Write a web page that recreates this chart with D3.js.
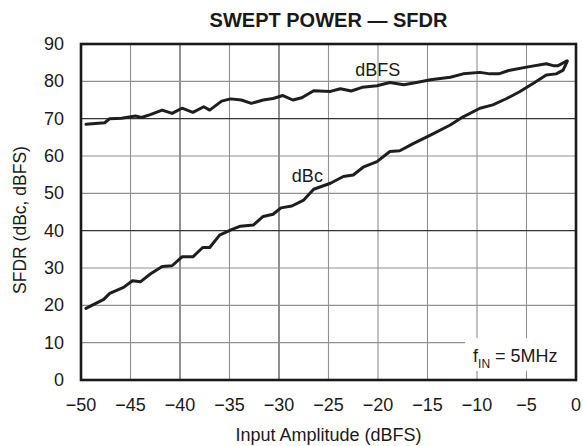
<!DOCTYPE html>
<html lang="en">
<head>
    <script src="https://d3js.org/d3.v7.min.js"></script>
    <style>
        body { margin: 0; background: white; }
        text { font-family: "Liberation Sans", Arial, sans-serif; fill: #1a1a1a; }
    </style>
</head>
<body>
    <svg id="chart" width="583" height="446"></svg>
    <script>
    // values
    const dbfsAmp = [-49.5, -47.6, -47.1, -45.9, -44.5, -43.9, -43.0, -41.8, -40.8, -39.8, -38.7, -37.6, -37.0, -35.8, -34.9, -33.8, -32.8, -31.6, -30.6, -29.6, -28.6, -27.7, -26.5, -24.8, -23.8, -22.7, -21.6, -20.1, -18.8, -17.4, -16.1, -14.7, -12.7, -11.4, -9.7, -8.7, -7.8, -6.8, -5.0, -3.0, -2.3, -1.8, -0.9];
    const dbfsSfdr = [68.5, 68.9, 70.0, 70.1, 70.7, 70.3, 71.1, 72.3, 71.4, 72.8, 71.7, 73.2, 72.3, 74.7, 75.3, 75.0, 74.1, 75.0, 75.4, 76.2, 75.0, 75.6, 77.5, 77.3, 78.0, 77.4, 78.4, 78.8, 79.7, 79.1, 79.7, 80.4, 81.1, 82.0, 82.4, 82.0, 82.0, 82.9, 83.8, 84.7, 84.2, 84.2, 85.5];

    const dbcAmp = [-49.5, -47.7, -47.1, -45.7, -44.8, -44.0, -43.0, -41.8, -40.8, -39.8, -38.7, -37.7, -37.0, -36.0, -34.8, -33.9, -32.6, -31.6, -30.6, -29.8, -28.7, -27.5, -26.5, -24.8, -23.5, -22.5, -21.5, -20.1, -18.8, -17.8, -16.4, -14.7, -12.7, -11.4, -9.7, -8.4, -7.0, -5.7, -4.3, -3.0, -2.0, -1.3, -0.9];
    const dbcSfdr = [19.2, 21.6, 23.2, 24.8, 26.6, 26.3, 28.4, 30.4, 30.6, 33.0, 33.0, 35.5, 35.5, 38.8, 40.3, 41.2, 41.5, 43.8, 44.4, 46.1, 46.6, 48.2, 51.1, 52.7, 54.5, 54.9, 57.0, 58.5, 61.2, 61.4, 63.4, 65.6, 68.3, 70.5, 72.8, 73.7, 75.4, 77.2, 79.5, 81.7, 82.0, 83.0, 85.3];

    const xTicks = [-50, -45, -40, -35, -30, -25, -20, -15, -10, -5, 0];
    const yTicks = [0, 10, 20, 30, 40, 50, 60, 70, 80, 90];
    const seriesNames = ["dBFS", "dBc"];
    const labelAmp = [-22.3, -28.7];
    const labelSfdr = [81.4, 53.0];

    const svg = d3.select("#chart");
    const margin = {top: 44, right: 7, bottom: 66, left: 81};
    const width = 583, height = 446;

    const x = d3.scaleLinear().domain([-50, 0]).range([margin.left, width - margin.right]);
    const y = d3.scaleLinear().domain([0, 90]).range([height - margin.bottom, margin.top]);

    // grid
    const darkX = [-40, -30], darkY = [40, 70];
    svg.append("g").selectAll("line").data(xTicks.slice(1, -1)).enter().append("line")
        .attr("x1", d => x(d)).attr("x2", d => x(d))
        .attr("y1", y(0)).attr("y2", y(90))
        .attr("stroke", d => darkX.includes(d) ? "#333" : "#909090")
        .attr("stroke-width", 1.1);
    svg.append("g").selectAll("line").data(yTicks.slice(1, -1)).enter().append("line")
        .attr("x1", x(-50)).attr("x2", x(0))
        .attr("y1", d => y(d)).attr("y2", d => y(d))
        .attr("stroke", d => darkY.includes(d) ? "#333" : "#909090")
        .attr("stroke-width", 1.1);

    // annotation box covers the grid
    svg.append("rect")
        .attr("x", x(-11.2)).attr("y", y(11.2))
        .attr("width", x(0) - x(-11.2)).attr("height", y(2.4) - y(11.2))
        .attr("fill", "white");
    const note = svg.append("text")
        .attr("x", x(-10.4)).attr("y", y(4.9))
        .style("font-size", "18px");
    note.append("tspan").text("f");
    note.append("tspan").attr("dy", 6).style("font-size", "12px").text("IN");
    note.append("tspan").attr("dy", -6).text(" = 5MHz");

    // curves
    const line = d3.line().x(d => x(d[0])).y(d => y(d[1]));
    const series = [d3.zip(dbfsAmp, dbfsSfdr), d3.zip(dbcAmp, dbcSfdr)];
    svg.append("g").selectAll("path").data(series).enter().append("path")
        .attr("d", line)
        .attr("fill", "none")
        .attr("stroke", "#1e1e1e")
        .attr("stroke-width", 3)
        .attr("stroke-linejoin", "round")
        .attr("stroke-linecap", "round");

    seriesNames.forEach((name, i) => {
        svg.append("text")
            .attr("x", x(labelAmp[i])).attr("y", y(labelSfdr[i]))
            .style("font-size", "18px")
            .text(name);
    });

    // frame
    svg.append("rect")
        .attr("x", x(-50)).attr("y", y(90))
        .attr("width", x(0) - x(-50)).attr("height", y(0) - y(90))
        .attr("fill", "none").attr("stroke", "#1a1a1a").attr("stroke-width", 2.6);

    // tick labels
    svg.append("g").selectAll("text").data(xTicks).enter().append("text")
        .attr("x", d => x(d)).attr("y", 411)
        .attr("text-anchor", "middle")
        .style("font-size", "18px")
        .text(d => d < 0 ? "\u2212" + Math.abs(d) : d);
    svg.append("g").selectAll("text").data(yTicks).enter().append("text")
        .attr("x", 64).attr("y", d => y(d) + 6)
        .attr("text-anchor", "end")
        .style("font-size", "18px")
        .text(d => d);

    // titles
    svg.append("text")
        .attr("x", (x(-50) + x(0)) / 2).attr("y", 27)
        .attr("text-anchor", "middle")
        .style("font-size", "20px").style("font-weight", "bold")
        .text("SWEPT POWER \u2014 SFDR");
    svg.append("text")
        .attr("x", (x(-50) + x(0)) / 2).attr("y", 441)
        .attr("text-anchor", "middle")
        .style("font-size", "18px")
        .text("Input Amplitude (dBFS)");
    svg.append("text")
        .attr("transform", "translate(26,220) rotate(-90)")
        .attr("text-anchor", "middle")
        .style("font-size", "17.5px")
        .text("SFDR (dBc, dBFS)");
    </script>
</body>
</html>
